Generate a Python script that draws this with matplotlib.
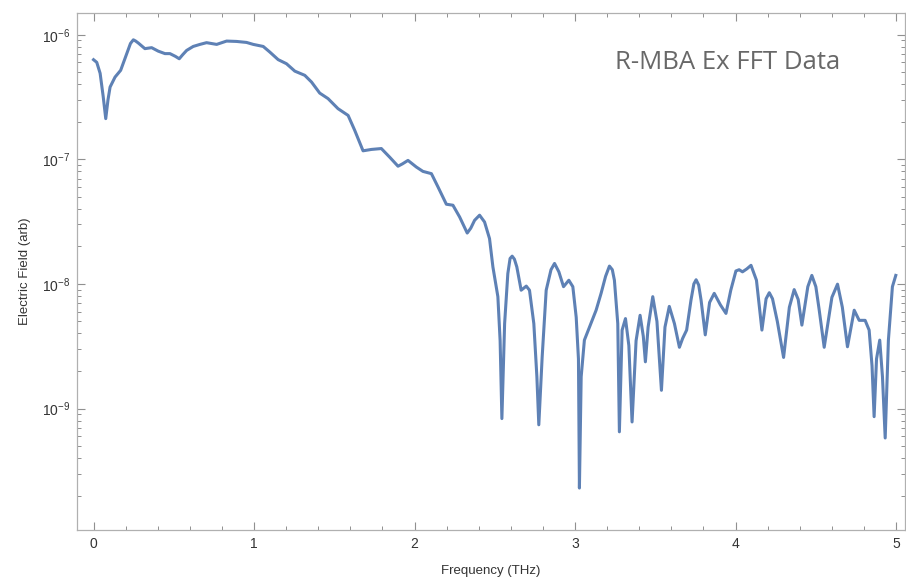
import numpy as np
import matplotlib.pyplot as plt
from matplotlib.ticker import LogLocator, FixedLocator, FuncFormatter

# FFT 数据
freq = [0.000, 0.020, 0.041, 0.060, 0.076, 0.090, 0.103, 0.134, 0.169, 0.207, 0.230, 0.248, 0.262, 0.279,
        0.320, 0.362, 0.403, 0.445, 0.476, 0.510, 0.534, 0.555, 0.580, 0.621, 0.663, 0.704,
        0.767, 0.829, 0.891, 0.953, 0.995, 1.057, 1.098, 1.150, 1.202, 1.254,
        1.316, 1.358, 1.409, 1.461, 1.523, 1.586, 1.627, 1.679, 1.731, 1.793,
        1.845, 1.897, 1.925, 1.959, 2.011, 2.052, 2.105, 2.146, 2.198, 2.239, 2.281,
        2.328, 2.350, 2.374, 2.405, 2.436, 2.467, 2.488, 2.519, 2.533, 2.544, 2.561,
        2.581, 2.595, 2.608, 2.622, 2.637, 2.664, 2.696, 2.716, 2.743, 2.762, 2.774, 2.795,
        2.820, 2.850, 2.872, 2.899, 2.928, 2.961, 2.986, 3.007, 3.021, 3.027, 3.038,
        3.058, 3.090, 3.131, 3.162, 3.190, 3.214, 3.232, 3.245, 3.266, 3.276, 3.293, 3.314,
        3.335, 3.355, 3.380, 3.405, 3.425, 3.438, 3.455, 3.484, 3.510, 3.538,
        3.560, 3.587, 3.619, 3.650, 3.670, 3.695, 3.722, 3.740, 3.754, 3.770, 3.785, 3.811,
        3.838, 3.867, 3.905, 3.940, 3.970, 4.002, 4.022, 4.043, 4.070, 4.096, 4.130,
        4.164, 4.190, 4.210, 4.230, 4.260, 4.299, 4.335, 4.365, 4.390, 4.413, 4.450, 4.475, 4.500,
        4.520, 4.552, 4.600, 4.635, 4.665, 4.697, 4.739, 4.770, 4.807, 4.832, 4.850, 4.863, 4.878,
        4.898, 4.915, 4.932, 4.952, 4.977, 4.998]
field = [6.3e-7, 6.0e-7, 4.9e-7, 3.2e-7, 2.12e-7, 3.0e-7, 3.8e-7, 4.57e-7, 5.18e-7, 7.05e-7, 8.5e-7, 9.1e-7, 8.9e-7, 8.57e-7,
         7.73e-7, 7.87e-7, 7.38e-7, 7.05e-7, 7.05e-7, 6.7e-7, 6.41e-7, 6.9e-7, 7.48e-7, 8.05e-7, 8.36e-7, 8.63e-7,
         8.36e-7, 8.89e-7, 8.83e-7, 8.67e-7, 8.36e-7, 8.05e-7, 7.26e-7, 6.31e-7, 5.85e-7, 5.1e-7,
         4.72e-7, 4.17e-7, 3.4e-7, 3.07e-7, 2.55e-7, 2.25e-7, 1.71e-7, 1.17e-7, 1.2e-7, 1.22e-7,
         1.04e-7, 8.8e-8, 9.2e-8, 9.8e-8, 8.67e-8, 8.0e-8, 7.67e-8, 6.0e-8, 4.36e-8, 4.28e-8, 3.44e-8,
         2.56e-8, 2.8e-8, 3.24e-8, 3.56e-8, 3.14e-8, 2.31e-8, 1.37e-8, 7.9e-9, 3.5e-9, 8.3e-10, 4.8e-9,
         1.21e-8, 1.6e-8, 1.67e-8, 1.58e-8, 1.37e-8, 8.9e-9, 9.6e-9, 8.9e-9, 4.8e-9, 1.8e-9, 7.4e-10, 2.6e-9,
         8.9e-9, 1.3e-8, 1.46e-8, 1.25e-8, 9.5e-9, 1.07e-8, 9.5e-9, 5.4e-9, 2.5e-9, 2.3e-10, 1.8e-9,
         3.54e-9, 4.52e-9, 6.15e-9, 8.4e-9, 1.15e-8, 1.39e-8, 1.3e-8, 1.07e-8, 4.8e-9, 6.5e-10, 4.26e-9, 5.27e-9,
         3.2e-9, 7.8e-10, 3.5e-9, 5.6e-9, 3.8e-9, 2.37e-9, 4.5e-9, 7.9e-9, 5.0e-9, 1.4e-9,
         4.5e-9, 6.6e-9, 4.8e-9, 3.1e-9, 3.65e-9, 4.26e-9, 7.4e-9, 1.0e-8, 1.08e-8, 9.8e-9, 7.4e-9, 3.9e-9,
         7.1e-9, 8.4e-9, 6.8e-9, 5.8e-9, 8.9e-9, 1.27e-8, 1.3e-8, 1.25e-8, 1.32e-8, 1.41e-8, 1.07e-8,
         4.26e-9, 7.6e-9, 8.5e-9, 7.6e-9, 5.0e-9, 2.57e-9, 6.5e-9, 9.0e-9, 7.5e-9, 4.67e-9, 9.5e-9, 1.17e-8, 9.5e-9,
         6.3e-9, 3.1e-9, 7.8e-9, 9.95e-9, 6.5e-9, 3.13e-9, 6.15e-9, 5.1e-9, 5.1e-9, 4.26e-9, 2.2e-9, 8.6e-10, 2.5e-9,
         3.54e-9, 1.8e-9, 5.8e-10, 3.54e-9, 9.5e-9, 1.17e-8]

x_ticks = [0, 1, 2, 3, 4, 5]
y_decades = [1e-9, 1e-8, 1e-7, 1e-6]

plt.rcParams['font.family'] = ['Liberation Sans', 'DejaVu Sans']
plt.rcParams['mathtext.default'] = 'regular'

fig = plt.figure(figsize=(9.06, 5.8), dpi=100)
ax = fig.add_axes([0.085, 0.086, 0.914, 0.892])

ax.plot(freq, field, color='#5E81B5', linewidth=2.2, solid_joinstyle='round')

ax.set_yscale('log')
ax.set_xlim(-0.103, 5.056)
ax.set_ylim(1.057e-10, 1.5e-6)

# 刻度
ax.xaxis.set_major_locator(FixedLocator(x_ticks))
ax.xaxis.set_minor_locator(FixedLocator(np.arange(-0.0, 5.05, 0.2)))
ax.yaxis.set_major_locator(FixedLocator(y_decades))
ax.yaxis.set_minor_locator(LogLocator(base=10, subs=np.arange(2, 10)))
ax.yaxis.set_major_formatter(FuncFormatter(lambda v, p: r'$10^{%d}$' % round(np.log10(v))))
ax.yaxis.set_minor_formatter(FuncFormatter(lambda v, p: ''))

for s in ax.spines.values():
    s.set_color('#b0b0b0')
    s.set_linewidth(0.9)

ax.tick_params(which='both', direction='in', top=True, right=True, color='#909090',
               labelsize=10, labelcolor='#333333')
ax.tick_params(which='major', length=5.5, width=0.8, pad=5)
ax.tick_params(which='minor', length=3, width=0.7)

ax.set_xlabel('Frequency (THz)', fontsize=9.5, color='#333333', labelpad=10)
ax.set_ylabel('Electric Field (arb)', fontsize=9.5, color='#333333', labelpad=8)

ax.text(0.786, 0.903, 'R-MBA Ex FFT Data', transform=ax.transAxes, ha='center', va='center',
        fontsize=18.5, color='#686868', family=['Open Sans', 'DejaVu Sans'])

plt.savefig('out.png', dpi=100)
